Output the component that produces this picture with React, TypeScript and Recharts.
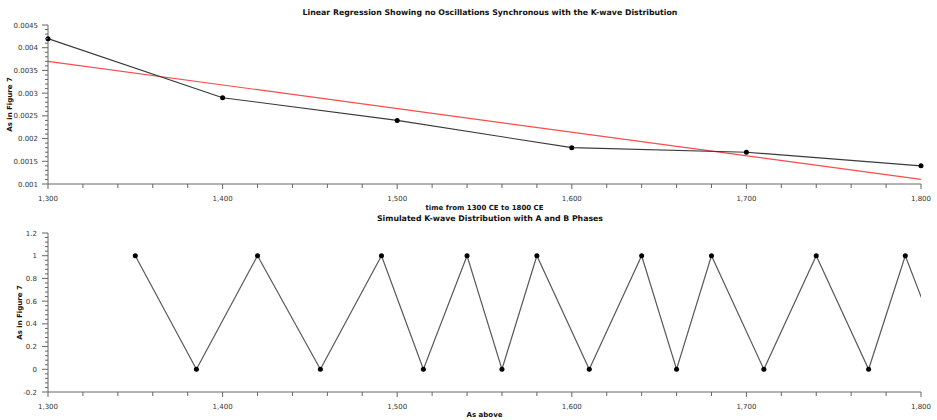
import React from 'react';
import { LineChart, Line, XAxis, YAxis } from 'recharts';

// measured series, 1300 CE to 1800 CE
const years = [1300, 1400, 1500, 1600, 1700, 1800];
const measured = [0.0042, 0.0029, 0.0024, 0.0018, 0.0017, 0.0014];

// fitted regression line end points
const fitYears = [1300, 1800];
const fitValues = [0.0037, 0.0011];

// simulated K-wave turning points (1 = peak, 0 = trough)
const kYears = [1350, 1385, 1420, 1456, 1491, 1515, 1540, 1560, 1580, 1610, 1640, 1660, 1680, 1710, 1740, 1770, 1791, 1816];
const kPhase = [1, 0, 1, 0, 1, 0, 1, 0, 1, 0, 1, 0, 1, 0, 1, 0, 1, 0];

const yearTicks = [1300, 1400, 1500, 1600, 1700, 1800];
const topTicks = [0.001, 0.0015, 0.002, 0.0025, 0.003, 0.0035, 0.004, 0.0045];
const bottomTicks = [-0.2, 0, 0.2, 0.4, 0.6, 0.8, 1, 1.2];

const measuredData = years.map((x, i) => ({ x, y: measured[i] }));
const fitData = fitYears.map((x, i) => ({ x, y: fitValues[i] }));
const kData = kYears.map((x, i) => ({ x, y: kPhase[i] }));

const FONT = '"DejaVu Sans", Verdana, sans-serif';
const AXIS = '#666';

// four minor ticks between each pair of labelled ones
const withMinors = (majors: number[]) => {
  const out: number[] = [];
  for (let i = 0; i < majors.length - 1; i++) {
    const step = (majors[i + 1] - majors[i]) / 5;
    for (let k = 0; k < 5; k++) out.push(majors[i] + step * k);
  }
  out.push(majors[majors.length - 1]);
  return out;
};

const isMajor = (v: number, majors: number[]) => majors.some(m => Math.abs(m - v) < 1e-9);

const fmtYear = (v: number) => Math.round(v).toLocaleString('en-US');

const makeYTick = (majors: number[], digits: number, gap: number) => (props: any) => {
  const { x, y, payload } = props;
  const major = isMajor(payload.value, majors);
  return (
    <g>
      <line x1={x - (major ? 6 : 3)} x2={x} y1={y} y2={y} stroke={AXIS} />
      {major && (
        <text x={x - gap} y={y + 2.5} textAnchor="end" fontSize={7} fontFamily={FONT} fill="#333">
          {Number(payload.value.toFixed(digits)).toString()}
        </text>
      )}
    </g>
  );
};

const XTick = (props: any) => {
  const { x, y, payload } = props;
  const major = isMajor(payload.value, yearTicks);
  return (
    <g>
      <line x1={x} x2={x} y1={y} y2={y + (major ? 5 : 4)} stroke={AXIS} />
      {major && (
        <text x={x} y={y + 16.5} textAnchor="middle" fontSize={7} fontFamily={FONT} fill="#333">
          {fmtYear(payload.value)}
        </text>
      )}
    </g>
  );
};

const XTitle = (props: any) => {
  const { viewBox, value, baseline } = props;
  return (
    <text x={viewBox.x + viewBox.width / 2} y={viewBox.y + baseline} textAnchor="middle"
      fontSize={7} fontWeight="bold" fontFamily={FONT} fill="#111">
      {value}
    </text>
  );
};

const YTitle = (props: any) => {
  const { viewBox, value, cx } = props;
  const cy = viewBox.y + viewBox.height / 2;
  return (
    <text x={cx} y={cy} transform={`rotate(-90, ${cx}, ${cy})`} textAnchor="middle" dominantBaseline="central"
      fontSize={7} fontWeight="bold" fontFamily={FONT} fill="#111">
      {value}
    </text>
  );
};

const titleStyle: React.CSSProperties = {
  position: 'absolute',
  left: 0,
  width: 980,
  textAlign: 'center',
  fontFamily: FONT,
  fontSize: 7.8,
  fontWeight: 'bold',
  color: '#111',
  lineHeight: '10px',
};

export default function App() {
  return (
    <div style={{ position: 'absolute', left: 0, top: 0, width: 937, height: 420, background: '#fff' }}>
      <div style={{ ...titleStyle, top: 8 }}>
        Linear Regression Showing no Oscillations Synchronous with the K-wave Distribution
      </div>
      <div style={{ position: 'absolute', left: 0, top: 0 }}>
        <LineChart width={937} height={210} margin={{ top: 25, right: 16, bottom: 0, left: 0 }}>
          <XAxis dataKey="x" type="number" domain={[1300, 1800]} ticks={withMinors(yearTicks)} interval={0}
            height={26} tickSize={0} tickMargin={0} tick={XTick} stroke={AXIS}
            label={<XTitle value="time from 1300 CE to 1800 CE" baseline={25.5} />} />
          <YAxis dataKey="y" type="number" domain={[0.001, 0.0045]} ticks={withMinors(topTicks)} interval={0}
            width={48} tickSize={0} tickMargin={0} tick={makeYTick(topTicks, 4, 10)} stroke={AXIS}
            label={<YTitle value="As in Figure 7" cx={10} />} />
          <Line data={fitData} dataKey="y" stroke="#ff4a4a" strokeWidth={1.2} dot={false} isAnimationActive={false} />
          <Line data={measuredData} dataKey="y" stroke="#3a3a3a" strokeWidth={1.1}
            dot={{ r: 2.5, fill: '#000', stroke: '#000', strokeWidth: 0 }} isAnimationActive={false} />
        </LineChart>
      </div>
      <div style={{ ...titleStyle, top: 214 }}>
        Simulated K-wave Distribution with A and B Phases
      </div>
      <div style={{ position: 'absolute', left: 0, top: 210 }}>
        <LineChart width={937} height={210} margin={{ top: 23, right: 16, bottom: 0, left: 0 }}>
          <XAxis dataKey="x" type="number" domain={[1300, 1800]} allowDataOverflow ticks={withMinors(yearTicks)}
            interval={0} height={28} tickSize={0} tickMargin={0} tick={XTick} stroke={AXIS}
            label={<XTitle value="As above" baseline={25} />} />
          <YAxis dataKey="y" type="number" domain={[-0.2, 1.2]} ticks={withMinors(bottomTicks)} interval={0}
            width={48} tickSize={0} tickMargin={0} tick={makeYTick(bottomTicks, 1, 11)} stroke={AXIS}
            label={<YTitle value="As in Figure 7" cx={20} />} />
          <Line data={kData} dataKey="y" stroke="#5a5a5a" strokeWidth={1.2}
            dot={{ r: 2.5, fill: '#000', stroke: '#000', strokeWidth: 0 }} isAnimationActive={false} />
        </LineChart>
      </div>
    </div>
  );
}
